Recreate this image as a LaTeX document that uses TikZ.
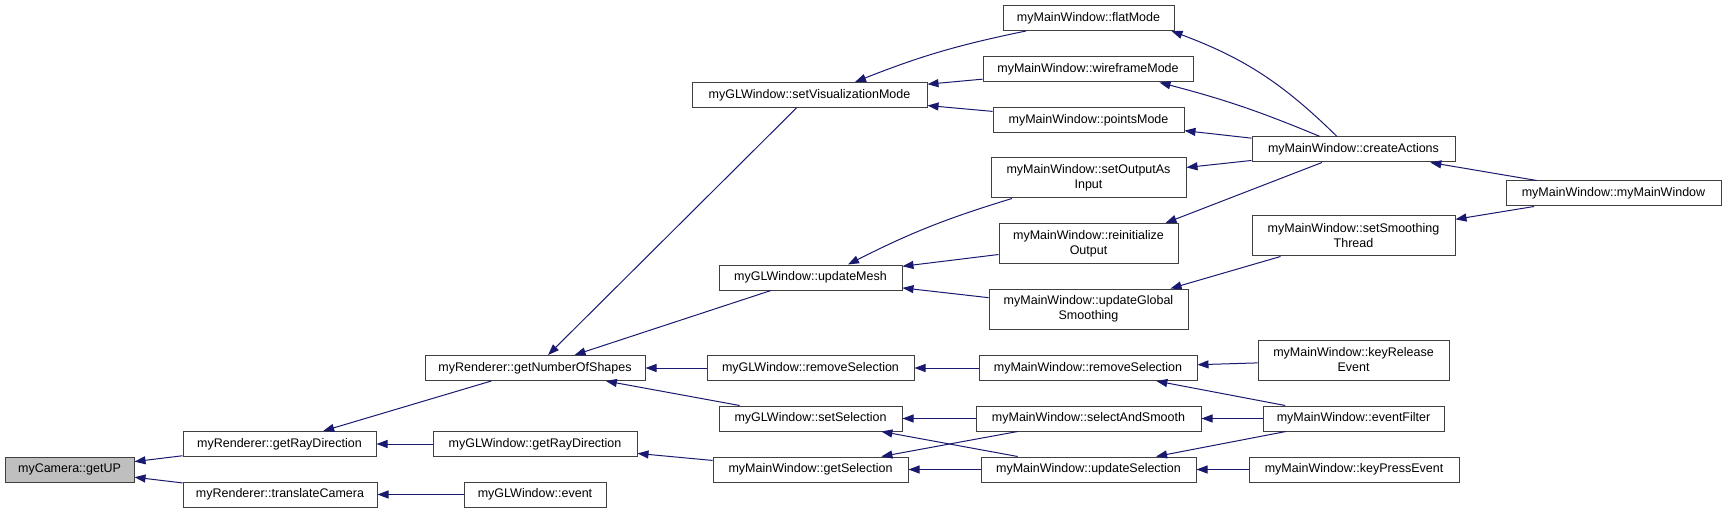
\documentclass[tikz,border=0pt]{standalone}
\usepackage{fontspec}
\setmainfont{Liberation Sans}
\usepackage{tikz}
\usetikzlibrary{arrows.meta, positioning}
\definecolor{edgeblue}{RGB}{25,25,112}
\definecolor{boxgray}{RGB}{191,191,191}
\definecolor{boxline}{RGB}{64,64,64}
\tikzset{
  fnode/.style={rectangle, draw=boxline, fill=white, line width=1pt,
    align=center, inner sep=0pt, minimum height=25pt,
    font=\fontsize{12.5}{15}\selectfont},
  fnodetwo/.style={fnode, minimum height=40pt},
  arrow/.style={-{Triangle[length=11pt, width=8pt]}, line width=1pt, color=edgeblue}
}

\begin{document}
\begin{tikzpicture}[x=1pt, y=-1pt]
  \useasboundingbox (0,0) rectangle (1727,513);

  \node[fnode, fill=boxgray, minimum width=129] (getup) at (69.5,469.5) {myCamera::getUP};
  \node[fnode, minimum width=193] (rgetray) at (279.5,444) {myRenderer::getRayDirection};
  \node[fnode, minimum width=194] (rtrans) at (280,494.5) {myRenderer::translateCamera};
  \node[fnode, minimum width=220] (numshapes) at (535,368) {myRenderer::getNumberOfShapes};
  \node[fnode, minimum width=204] (gwray) at (535,444) {myGLWindow::getRayDirection};
  \node[fnode, minimum width=142] (gwevent) at (535,494.5) {myGLWindow::event};
  \node[fnode, minimum width=235] (setvis) at (809.5,95) {myGLWindow::setVisualizationMode};
  \node[fnode, minimum width=183] (updmesh) at (810.5,277.5) {myGLWindow::updateMesh};
  \node[fnode, minimum width=207] (gwremsel) at (810.5,368) {myGLWindow::removeSelection};
  \node[fnode, minimum width=183] (gwsetsel) at (810.5,418.5) {myGLWindow::setSelection};
  \node[fnode, minimum width=195] (getsel) at (810.5,469.5) {myMainWindow::getSelection};
  \node[fnode, minimum width=171] (flatmode) at (1088.5,18) {myMainWindow::flatMode};
  \node[fnode, minimum width=210] (wiremode) at (1088,69.5) {myMainWindow::wireframeMode};
  \node[fnode, minimum width=191] (ptsmode) at (1088.5,120) {myMainWindow::pointsMode};
  \node[fnodetwo, minimum width=195] (setout) at (1088.5,178) {myMainWindow::setOutputAs\\Input};
  \node[fnodetwo, minimum width=179] (reinit) at (1088.5,243.5) {myMainWindow::reinitialize\\Output};
  \node[fnodetwo, minimum width=199] (updglobal) at (1088.5,309) {myMainWindow::updateGlobal\\Smoothing};
  \node[fnode, minimum width=218] (mwremsel) at (1088,368) {myMainWindow::removeSelection};
  \node[fnode, minimum width=225] (selsmooth) at (1088.5,418.5) {myMainWindow::selectAndSmooth};
  \node[fnode, minimum width=215] (updsel) at (1088.5,469.5) {myMainWindow::updateSelection};
  \node[fnode, minimum width=203] (createact) at (1353.5,149.5) {myMainWindow::createActions};
  \node[fnodetwo, minimum width=203] (setsmooth) at (1353.5,236) {myMainWindow::setSmoothing\\Thread};
  \node[fnodetwo, minimum width=191] (keyrel) at (1353.5,360) {myMainWindow::keyRelease\\Event};
  \node[fnode, minimum width=181] (evfilter) at (1353.5,418.5) {myMainWindow::eventFilter};
  \node[fnode, minimum width=210] (keypress) at (1354,469.5) {myMainWindow::keyPressEvent};
  \node[fnode, minimum width=215] (mymain) at (1613.5,193.5) {myMainWindow::myMainWindow};

  \draw[arrow] (rgetray) -- (getup);
  \draw[arrow] (rtrans) -- (getup);
  \draw[arrow] (numshapes) -- (rgetray);
  \draw[arrow] (gwray) -- (rgetray);
  \draw[arrow] (gwevent) -- (rtrans);
  \draw[arrow] (setvis) -- (numshapes);
  \draw[arrow] (updmesh) -- (numshapes);
  \draw[arrow] (gwremsel) -- (numshapes);
  \draw[arrow] (gwsetsel) -- (numshapes);
  \draw[arrow] (getsel) -- (gwray);
  \draw[arrow] ([xshift=-62.5]flatmode.south) to[bend right=5] ([xshift=45.5]setvis.north);
  \draw[arrow] (wiremode) -- (setvis);
  \draw[arrow] (ptsmode) -- (setvis);
  \draw[arrow] ([xshift=-76.5]setout.south) to[bend right=5] ([xshift=37.5]updmesh.north);
  \draw[arrow] (reinit) -- (updmesh);
  \draw[arrow] (updglobal) -- (updmesh);
  \draw[arrow] ([xshift=-16.5]createact.north) to[bend right=12] ([xshift=-3]flatmode.south east);
  \draw[arrow] ([xshift=-33.5]createact.north) to[bend right=4] ([xshift=-34]wiremode.south east);
  \draw[arrow] (createact) -- (ptsmode);
  \draw[arrow] (createact) -- (setout);
  \draw[arrow] ([xshift=-31.5]createact.south) -- ([xshift=77]reinit.north);
  \draw[arrow] ([xshift=-73]setsmooth.south) -- ([xshift=82]updglobal.north);
  \draw[arrow] (mymain) -- (createact);
  \draw[arrow] (mymain) -- (setsmooth);
  \draw[arrow] (mwremsel) -- (gwremsel);
  \draw[arrow] (keyrel) -- (mwremsel);
  \draw[arrow] (evfilter) -- (mwremsel);
  \draw[arrow] (selsmooth) -- (gwsetsel);
  \draw[arrow] (evfilter) -- (selsmooth);
  \draw[arrow] (updsel) -- (gwsetsel);
  \draw[arrow] (selsmooth) -- (getsel);
  \draw[arrow] (updsel) -- (getsel);
  \draw[arrow] (evfilter) -- (updsel);
  \draw[arrow] (keypress) -- (updsel);
\end{tikzpicture}
\end{document}
